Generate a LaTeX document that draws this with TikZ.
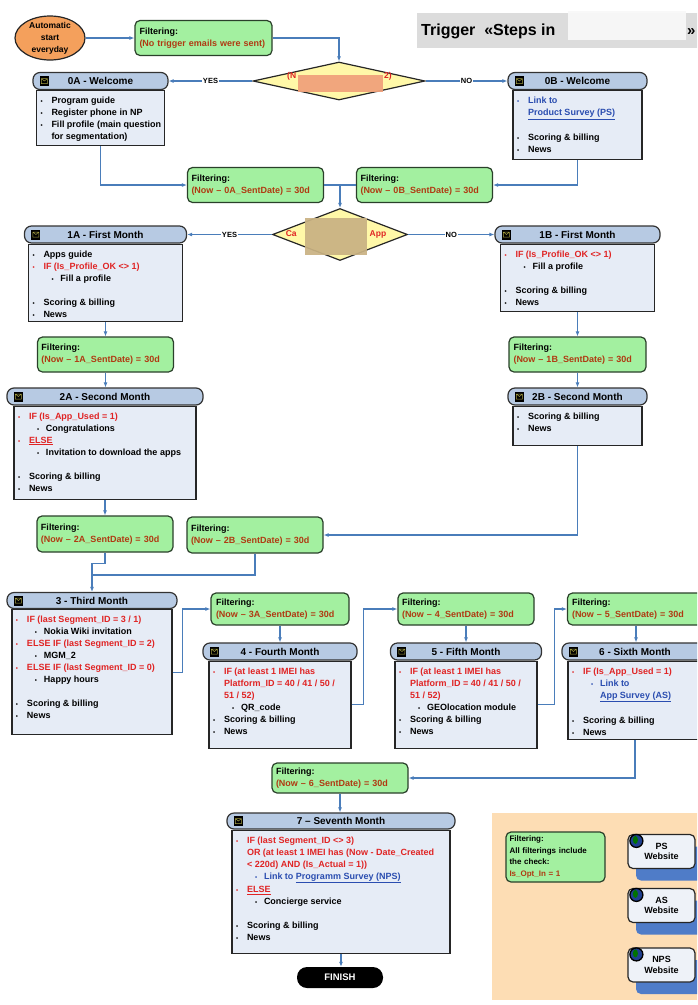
\documentclass[tikz,border=0pt]{standalone}
\usepackage{fontspec}
\setmainfont{Liberation Sans}
\usepackage{tikz}
\usetikzlibrary{positioning,shapes.geometric,arrows.meta}

\definecolor{wireblue}{HTML}{4A7DBA}
\definecolor{hdrfill}{HTML}{B7CAE3}
\definecolor{bodyfill}{HTML}{E6ECF6}
\definecolor{filtfill}{HTML}{A3F0A0}
\definecolor{filtedge}{HTML}{2A402A}
\definecolor{filtred}{HTML}{B03A12}
\definecolor{condred}{HTML}{E02424}
\definecolor{urlblue}{HTML}{2A4DB0}
\definecolor{diamfill}{HTML}{FFF8A8}
\definecolor{ovalfill}{HTML}{F4A05C}
\definecolor{legendbg}{HTML}{FDDDB4}
\definecolor{shadowblue}{HTML}{4F7CC8}
\definecolor{sitefill}{HTML}{EEF2F8}
\definecolor{globeblue}{HTML}{1F3F8F}
\definecolor{titlegray}{HTML}{DCDCDC}
\definecolor{hideorange}{HTML}{F0A07A}
\definecolor{hidetan}{HTML}{C9B283}

% list lines inside the step boxes
\newcommand{\bul}{{\fontsize{6}{6}\selectfont\textbullet}}
\newcommand{\bitem}[2][black]{{\color{#1}\strut\hspace*{4pt}\makebox[11pt][l]{\bul}#2\par}}
\newcommand{\bsub}[2][black]{{\color{#1}\strut\hspace*{23pt}\makebox[9pt][l]{\bul}#2\par}}
\newcommand{\bcont}[2][black]{{\color{#1}\strut\hspace*{15pt}#2\par}}
\newcommand{\bsubc}[2][black]{{\color{#1}\strut\hspace*{32pt}#2\par}}
\newcommand{\bgap}{\strut\par}
\newcommand{\stepbody}[3]{\parbox[c][#2][t]{#1}{\fontsize{9}{12}\selectfont\bfseries\vspace*{4.5pt}#3}}
\newcommand{\filt}[1]{Filtering:\\\textcolor{filtred}{#1}}

\begin{document}
\begin{tikzpicture}[x=1pt,y=-1pt,
  hdr/.style={draw=black!80,fill=hdrfill,line width=1.2pt,rounded corners=7pt,minimum height=17pt,inner sep=0pt,font=\fontsize{10}{12}\selectfont\bfseries},
  body/.style={draw=black!85,fill=bodyfill,line width=1.2pt,inner sep=0pt},
  filterbox/.style={draw=filtedge,fill=filtfill,line width=1.2pt,rounded corners=5pt,minimum width=136pt,minimum height=35pt,text width=128pt,align=left,inner sep=4pt,font=\fontsize{9}{12}\selectfont\bfseries},
  mail/.style={fill=black,minimum width=9pt,minimum height=10pt,inner sep=0pt,
    path picture={\draw[yellow!60!black,line width=.5pt]
      ([shift={(1.5pt,2.5pt)}]path picture bounding box.south west) rectangle ([shift={(-1.5pt,-2.5pt)}]path picture bounding box.north east)
      ([shift={(1.5pt,-2.5pt)}]path picture bounding box.north west) -- (path picture bounding box.center) -- ([shift={(-1.5pt,-2.5pt)}]path picture bounding box.north east);}},
  cond/.style={diamond,draw=black!85,fill=diamfill,line width=1.2pt,inner sep=0pt},
  condtxt/.style={inner sep=0pt,text=condred,font=\fontsize{8.5}{10}\selectfont\bfseries},
  blot/.style={inner sep=0pt,opacity=.93},
  lbl/.style={fill=white,inner sep=1pt,font=\fontsize{7.5}{8}\selectfont\bfseries},
  wire/.style={draw=wireblue,line width=1.3pt},
  arr/.style={wire,-{Latex[length=5pt,width=4pt]}},
  siteshade/.style={fill=shadowblue,rounded corners=5pt,minimum width=67pt,minimum height=34pt,inner sep=0pt},
  site/.style={draw=black!85,fill=sitefill,line width=1.2pt,rounded corners=5pt,minimum width=67pt,minimum height=34pt,align=center,inner sep=0pt,font=\fontsize{9}{10.5}\selectfont\bfseries},
  globe/.style={circle,draw=black,line width=1.3pt,fill=globeblue,minimum size=13pt,inner sep=0pt,
    path picture={\fill[green!45!black] ([shift={(-1pt,1pt)}]path picture bounding box.center) ellipse (2.5pt and 4pt);}}]

  \useasboundingbox (0,0) rectangle (697,1005);
  \clip (0,0) rectangle (697,1005);

  % title band and legend panel
  \node[fill=titlegray,minimum width=285pt,minimum height=35pt,anchor=north west,inner sep=0pt] (tband) at (417,13) {};
  \node[anchor=base west,inner sep=0pt,font=\fontsize{16}{18}\selectfont\bfseries] (ttext) at (421,35) {Trigger\ \ «Steps in};
  \node[blot,fill=white!80!titlegray,minimum width=118pt,minimum height=29pt] (tblur) at (627,25.5) {};
  \node[anchor=base west,inner sep=0pt,font=\fontsize{15}{18}\selectfont\bfseries] (tend) at (687,35) {»};
  \node[fill=legendbg,minimum width=210pt,minimum height=187pt,anchor=north west,inner sep=0pt] (legend) at (492,813) {};

  % start
  \node[ellipse,draw=black!85,fill=ovalfill,line width=1.2pt,minimum width=70pt,minimum height=44pt,inner sep=0pt,
    label={[align=center,font=\fontsize{8.5}{12}\selectfont\bfseries]center:Automatic\\start\\everyday}] (start) at (50,38) {};
  \node[filterbox,minimum width=137pt] (fstart) at (203.5,38) {\filt{(No trigger emails were sent)}};

  \node[cond,minimum width=172pt,minimum height=38pt] (d1) at (339,81) {};
  \node[condtxt] (d1t) at (339.5,76) {(N\hspace{88pt}2)};
  \node[blot,fill=hideorange,minimum width=85pt,minimum height=17pt] (r1) at (340.5,83.5) {};

  % welcome
  \node[hdr,minimum width=135pt] (h0a) at (100.5,81) {0A - Welcome};
  \node[body,below=0pt of h0a] (b0a) {\stepbody{128pt}{55pt}{%
    \bitem{Program guide}
    \bitem{Register phone in NP}
    \bitem{Fill profile (main question}
    \bcont{for segmentation)}}};

  \node[hdr,minimum width=139pt] (h0b) at (577.5,81) {0B - Welcome};
  \node[body,below=0pt of h0b] (b0b) {\stepbody{129pt}{69pt}{%
    \bitem[urlblue]{Link to}
    \bcont[urlblue]{\underline{Product Survey (PS)}}
    \bgap
    \bitem{Scoring \& billing}
    \bitem{News}}};

  \node[filterbox,minimum width=135pt] (f0a) at (255.5,185) {\filt{(Now – 0A\_SentDate) = 30d}};
  \node[filterbox,minimum width=135pt] (f0b) at (424.5,185) {\filt{(Now – 0B\_SentDate) = 30d}};
  \coordinate (j1) at (340,185);

  \node[cond,minimum width=135pt,minimum height=52pt] (d2) at (340,234.5) {};
  \node[condtxt] (d2t) at (336,234) {Ca\hspace{73pt}App};
  \node[blot,fill=hidetan,minimum width=62pt,minimum height=37pt] (r2) at (336,236.5) {};

  % first month
  \node[hdr,minimum width=162pt] (h1a) at (105.5,234.5) {1A - First Month};
  \node[body,below=0pt of h1a] (b1a) {\stepbody{154pt}{77pt}{%
    \bitem{Apps guide}
    \bitem[condred]{IF (Is\_Profile\_OK <> 1)}
    \bsub{Fill a profile}
    \bgap
    \bitem{Scoring \& billing}
    \bitem{News}}};

  \node[hdr,minimum width=165pt] (h1b) at (577.5,234.5) {1B - First Month};
  \node[body,below=0pt of h1b] (b1b) {\stepbody{154pt}{67pt}{%
    \bitem[condred]{IF (Is\_Profile\_OK <> 1)}
    \bsub{Fill a profile}
    \bgap
    \bitem{Scoring \& billing}
    \bitem{News}}};

  \node[filterbox] (f1a) at (105.5,354.5) {\filt{(Now – 1A\_SentDate) = 30d}};
  \node[filterbox,minimum width=137pt] (f1b) at (577.5,354.5) {\filt{(Now – 1B\_SentDate) = 30d}};

  % second month
  \node[hdr,minimum width=196pt] (h2a) at (105,396.5) {2A - Second Month};
  \node[body,below=0pt of h2a] (b2a) {\stepbody{182pt}{93pt}{%
    \bitem[condred]{IF (Is\_App\_Used = 1)}
    \bsub{Congratulations}
    \bitem[condred]{\underline{ELSE}}
    \bsub{Invitation to download the apps}
    \bgap
    \bitem{Scoring \& billing}
    \bitem{News}}};

  \node[hdr,minimum width=139pt] (h2b) at (577.5,396.5) {2B - Second Month};
  \node[body,below=0pt of h2b] (b2b) {\stepbody{129pt}{39pt}{%
    \bitem{Scoring \& billing}
    \bitem{News}}};

  \node[filterbox,minimum height=36pt] (f2a) at (105,534) {\filt{(Now – 2A\_SentDate) = 30d}};
  \node[filterbox,minimum height=36pt] (f2b) at (255,535) {\filt{(Now – 2B\_SentDate) = 30d}};
  \coordinate (j2) at (92,575);

  % third to sixth month
  \node[hdr,minimum width=170pt,minimum height=16pt] (h3) at (92,600.5) {3 - Third Month};
  \node[body,below=0pt of h3] (b3) {\stepbody{160pt}{125pt}{%
    \bitem[condred]{IF (last Segment\_ID = 3 / 1)}
    \bsub{Nokia Wiki invitation}
    \bitem[condred]{ELSE IF (last Segment\_ID = 2)}
    \bsub{MGM\_2}
    \bitem[condred]{ELSE IF (last Segment\_ID = 0)}
    \bsub{Happy hours}
    \bgap
    \bitem{Scoring \& billing}
    \bitem{News}}};

  \node[filterbox,minimum width=138pt,minimum height=32pt] (f3) at (280,609) {\filt{(Now – 3A\_SentDate) = 30d}};
  \node[hdr,minimum width=154pt] (h4) at (280,651.5) {4 - Fourth Month};
  \node[body,below=0pt of h4] (b4) {\stepbody{142pt}{87pt}{%
    \bitem[condred]{IF (at least 1 IMEI has}
    \bcont[condred]{Platform\_ID = 40 / 41 / 50 /}
    \bcont[condred]{51 / 52)}
    \bsub{QR\_code}
    \bitem{Scoring \& billing}
    \bitem{News}}};

  \node[filterbox,minimum height=32pt] (f4) at (466,609) {\filt{(Now – 4\_SentDate) = 30d}};
  \node[hdr,minimum width=151pt] (h5) at (466,651.5) {5 - Fifth Month};
  \node[body,below=0pt of h5] (b5) {\stepbody{142pt}{87pt}{%
    \bitem[condred]{IF (at least 1 IMEI has}
    \bcont[condred]{Platform\_ID = 40 / 41 / 50 /}
    \bcont[condred]{51 / 52)}
    \bsub{GEOlocation module}
    \bitem{Scoring \& billing}
    \bitem{News}}};

  \node[filterbox,minimum width=137pt,minimum height=32pt] (f5) at (636,609) {\filt{(Now – 5\_SentDate) = 30d}};
  \node[hdr,minimum width=146pt] (h6) at (635,651.5) {6 - Sixth Month};
  \node[body,below=0pt of h6] (b6) {\stepbody{134pt}{78pt}{%
    \bitem[condred]{IF (Is\_App\_Used = 1)}
    \bsub[urlblue]{Link to}
    \bsubc[urlblue]{\underline{App Survey (AS)}}
    \bgap
    \bitem{Scoring \& billing}
    \bitem{News}}};

  % seventh month
  \node[filterbox,minimum height=30pt] (f6) at (340,778) {\filt{(Now – 6\_SentDate) = 30d}};
  \node[hdr,minimum width=228pt,minimum height=16pt] (h7) at (341,821) {7 – Seventh Month};
  \node[body,below=0pt of h7] (b7) {\stepbody{218pt}{123pt}{%
    \bitem[condred]{IF (last Segment\_ID <> 3)}
    \bcont[condred]{OR (at least 1 IMEI has (Now - Date\_Created}
    \bcont[condred]{< 220d) AND (Is\_Actual = 1))}
    \bsub[urlblue]{Link to \underline{Programm Survey (NPS)}}
    \bitem[condred]{\underline{ELSE}}
    \bsub{Concierge service}
    \bgap
    \bitem{Scoring \& billing}
    \bitem{News}}};

  \node[fill=black,rounded corners=10pt,minimum width=86pt,minimum height=21pt,text=white,font=\fontsize{9.5}{10}\selectfont\bfseries] (finish) at (340,977.5) {FINISH};

  \foreach \h in {h0a,h0b,h1a,h1b,h2a,h2b,h3,h4,h5,h6,h7}
    \node[mail] (m\h) at ([xshift=12pt]\h.west) {};

  % legend
  \node[filterbox,minimum width=99pt,minimum height=50pt,text width=92pt,inner sep=3.5pt,font=\fontsize{8}{11.4}\selectfont\bfseries] (flegend) at (555.5,857)
    {Filtering:\\All filterings include\\the check:\\\textcolor{filtred}{Is\_Opt\_In = 1}};
  \foreach \s/\y in {PS/851.5,AS/905.5,NPS/965} {
    \node[siteshade] (sh\s) at ([xshift=8pt,yshift=-12pt]661.5,\y) {};
    \node[site] (w\s) at (661.5,\y) {\s\\Website};
    \node[globe] (g\s) at ([xshift=9pt,yshift=-7pt]w\s.north west) {};
  }

  % connectors
  \draw[arr] (start.east) -- (fstart.west);
  \draw[arr] (fstart.east) -| (d1.north);
  \draw[arr] (d1.west) -- node[lbl] (yes1) {YES} (h0a.east);
  \draw[arr] (d1.east) -- node[lbl] (no1) {NO} (h0b.west);
  \draw[arr] (b0a.south) |- (f0a.west);
  \draw[arr] (b0b.south) |- (f0b.east);
  \draw[wire] (f0a.east) -- (f0b.west);
  \draw[arr] (j1) -- (d2.north);
  \draw[arr] (d2.west) -- node[lbl] (yes2) {YES} (h1a.east);
  \draw[arr] (d2.east) -- node[lbl] (no2) {NO} (h1b.west);
  \draw[arr] (b1a.south) -- (b1a.south |- f1a.north);
  \draw[arr] (f1a.south) -- (f1a.south |- h2a.north);
  \draw[arr] (b1b.south) -- (f1b.north);
  \draw[arr] (f1b.south) -- (h2b.north);
  \draw[arr] (b2a.south) -- (b2a.south |- f2a.north);
  \draw[arr] (b2b.south) |- (f2b.east);
  \draw[arr] (f2a.south) -- ++(0,11) -| (h3.north);
  \draw[wire] (f2b.south) |- (j2);
  \draw[arr] (b3.east) -- ++(10,0) |- (f3.west);
  \draw[arr] (f3.south) -- (f3.south |- h4.north);
  \draw[arr] (b4.east) -- ++(12,0) |- (f4.west);
  \draw[arr] (f4.south) -- (f4.south |- h5.north);
  \draw[arr] (b5.east) -- ++(17,0) |- (f5.west);
  \draw[arr] (f5.south) -- (f5.south |- h6.north);
  \draw[arr] (b6.south) |- (f6.east);
  \draw[arr] (f6.south) -- (f6.south |- h7.north);
  \draw[arr] (b7.south) -- (b7.south |- finish.north);
\end{tikzpicture}
\end{document}
